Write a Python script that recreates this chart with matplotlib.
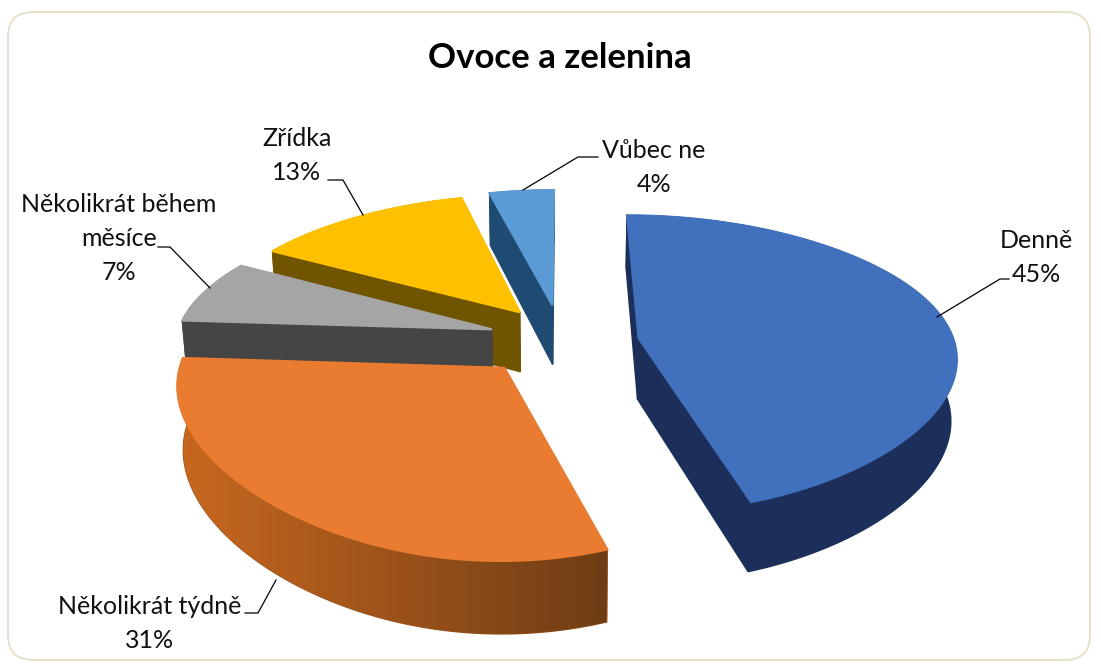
import numpy as np
import matplotlib
matplotlib.use("Agg")
import matplotlib.pyplot as plt
from matplotlib.patches import FancyBboxPatch, Polygon
from matplotlib.colors import to_rgb

plt.rcParams['font.family'] = ['Lato', 'DejaVu Sans']

# Survey answers
title = "Ovoce a zelenina"
categories = ["Denně", "Několikrát týdně", "Několikrát během\nměsíce", "Zřídka", "Vůbec ne"]
values = [45, 31, 7, 13, 4]

# Slice styling
explode = [0.25, 0.29, 0.24, 0.24, 0.25]
nudge_px = [(-1, 2), (0, -9), (2, -3), (3, -3), (0, -2)]
top_colors = ["#4170BC", "#E97C30", "#A5A5A5", "#FFC000", "#5B9BD5"]
face_colors = ["#1B2F5A", "#7A4418", "#454545", "#705400", "#1F4A72"]
wall_left = ["#1B2F5A", "#C9681F", "#454545", "#705400", "#1F4A72"]
wall_right = ["#1B2F5A", "#6E3D15", "#454545", "#705400", "#1F4A72"]
draw_order = [4, 3, 2, 1, 0]

# Label layout: text centre and leader polyline (pixels)
label_pos = [(1036, 240), (150, 606), (119, 204), (297, 138), (654, 151)]
leaders = [
    [(937, 317), (1000, 279), (1009, 279)],
    [(276, 580), (258, 613), (245, 613)],
    [(210, 288), (170, 247), (158, 247)],
    [(363, 215), (343, 180), (328, 180)],
    [(523, 190), (578, 157), (598, 157)],
]
LINE_PITCH = 34

# Perspective camera for the pie
CX, CY = 562, 342
SCALE_X, SCALE_Y = 316, 146
DEPTH_K = 0.173
DEPTH_XA, DEPTH_XB = 0.126, 0.047
THICKNESS = 62
BOTTOM_SHRINK = 0.015


def project(x, y, bottom=False):
    extra = BOTTOM_SHRINK if bottom else 0
    wx = 1 + DEPTH_XA * y + DEPTH_XB * y ** 2 + extra
    wy = 1 + DEPTH_K * y + extra
    sx = CX + SCALE_X * x / wx
    sy = CY - SCALE_Y * y / wy + (THICKNESS / wy if bottom else 0)
    return np.column_stack([sx, sy])


fig = plt.figure(figsize=(11.01, 6.70), dpi=100, facecolor="white")
ax = fig.add_axes([0, 0, 1, 1])
ax.axis("off")

ax.add_patch(FancyBboxPatch((33, 37), 1032, 598,
                            boxstyle="round,pad=25,rounding_size=25",
                            fc="white", ec="#E6E0C8", lw=1.4, zorder=0))

total = sum(values)
edges = np.cumsum([0] + values) / total * 2 * np.pi
layer = [1]


def add_poly(points, color, lw=1.0):
    patch = Polygon(points, closed=True, fc=color, ec=color, lw=lw, zorder=layer[0])
    ax.add_patch(patch)
    layer[0] += 1
    return patch


def draw_slice(i):
    a0, a1 = edges[i], edges[i + 1]
    mid = (a0 + a1) / 2
    ox, oy = explode[i] * np.sin(mid), explode[i] * np.cos(mid)
    shift = np.array(nudge_px[i])
    t = np.linspace(a0, a1, 160)
    arc_x, arc_y = ox + np.sin(t), oy + np.cos(t)

    # radial faces
    for ang in (a0, a1):
        ex, ey = np.array([ox, ox + np.sin(ang)]), np.array([oy, oy + np.cos(ang)])
        quad = np.vstack([project(ex, ey), project(ex, ey, True)[::-1]]) + shift
        add_poly(quad, face_colors[i])

    # curved outer wall, shaded left to right
    top = project(arc_x, arc_y) + shift
    bot = project(arc_x, arc_y, True) + shift
    wall = np.vstack([top, bot[::-1]])
    c0, c1 = np.array(to_rgb(wall_left[i])), np.array(to_rgb(wall_right[i]))
    patch = add_poly(wall, tuple((c0 + c1) / 2))
    if wall_left[i] != wall_right[i]:
        ramp = np.linspace(0, 1, 256)[None, :, None]
        grad = c0[None, None, :] + (c1 - c0)[None, None, :] * ramp
        img = ax.imshow(grad, extent=(top[:, 0].min(), top[:, 0].max(), bot[:, 1].max(), top[:, 1].min()),
                        aspect="auto", interpolation="bilinear", zorder=layer[0])
        img.set_clip_path(patch)
        layer[0] += 1

    # top surface
    apex = project(np.array([ox]), np.array([oy])) + shift
    add_poly(np.vstack([apex, top]), top_colors[i], lw=1.6)


for i in draw_order:
    draw_slice(i)

ax.set_xlim(0, 1101)
ax.set_ylim(670, 0)

ax.text(560, 58, title, ha="center", va="center", fontsize=25, fontweight="bold", color="black", zorder=50)

for cat, val, (tx, ty), path in zip(categories, values, label_pos, leaders):
    lines = cat.split("\n") + [f"{val}%"]
    for n, line in enumerate(lines):
        ax.text(tx, ty + n * LINE_PITCH, line, ha="center", va="center", fontsize=18, color="#111111", zorder=50)
    xs, ys = zip(*path)
    ax.plot(xs, ys, color="black", lw=0.9, solid_joinstyle="miter", zorder=49)

fig.savefig("out.png", dpi=100)
